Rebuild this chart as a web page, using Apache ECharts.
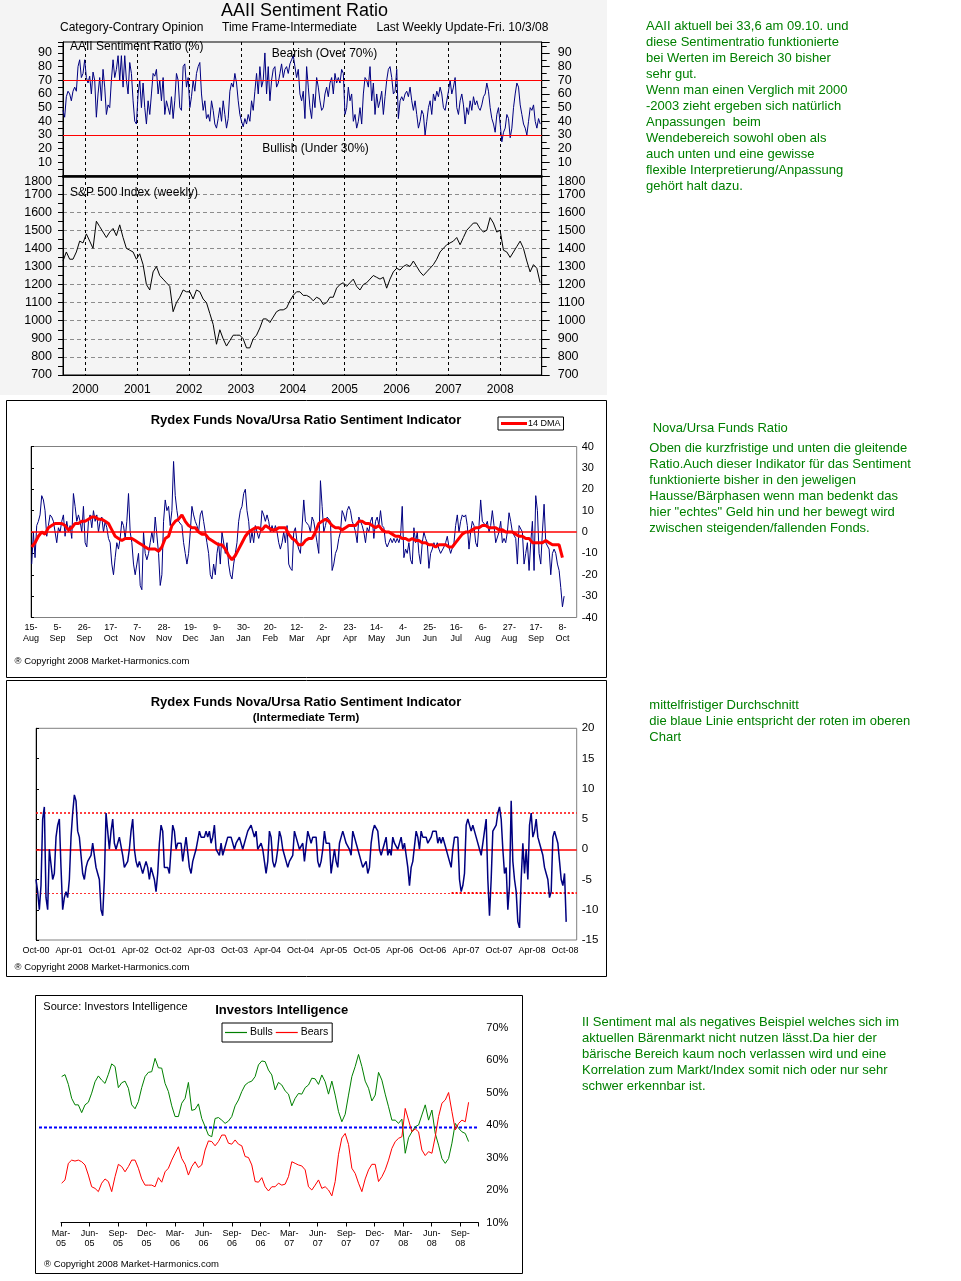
<!DOCTYPE html>
<html><head><meta charset="utf-8">
<script src="https://cdn.jsdelivr.net/npm/echarts@6/dist/echarts.min.js"></script>
<style>html,body{margin:0;padding:0;background:#fff}#c{width:961px;height:1281px}</style>
</head><body><div id="c"></div>
<script>
// ---------------- DATA ----------------
// AAII sentiment ratio (%), regular samples from mid-1999 to Oct 2008
const SENT_START = 1999.568, SENT_STEP = 0.03218;
const SENT_VALUES = [
48,43,58,62,60,55,62,65,62,80,85,72,75,85,72,68,73,60,76,70,
43,60,72,55,78,65,45,52,50,70,85,72,78,88,70,88,65,88,70,60,
83,75,55,40,38,60,70,50,68,50,38,55,45,60,75,73,78,60,70,55,
72,45,55,50,45,58,42,55,75,70,50,48,80,82,65,72,50,58,70,62,
75,80,83,60,48,55,42,45,40,55,48,38,35,42,50,40,55,45,35,42,
62,68,65,75,68,55,45,40,36,42,38,45,40,55,48,62,75,60,80,65,
70,90,60,80,55,70,78,80,65,68,75,82,72,78,80,75,82,85,88,80,
72,78,60,55,62,42,80,65,50,
42,60,50,72,65,55,48,50,60,65,58,68,72,60,75,68,72,68,78,75,
45,50,65,55,60,40,45,35,40,50,38,60,72,70,65,80,55,68,45,60,
50,55,62,45,58,70,78,80,72,60,62,78,42,55,58,55,60,62,58,65,
55,48,55,45,35,40,48,45,30,40,50,55,45,60,55,62,58,65,60,50,
48,55,62,70,60,65,72,50,45,55,60,52,38,50,45,55,48,58,52,55,
50,48,52,58,60,68,62,50,42,38,32,45,50,38,25,32,35,45,42,28,
35,50,60,68,65,52,45,38,35,30,40,50,48,52,40,35,42,38];
const SENT_BEARISH = 70, SENT_BULLISH = 30;
// S&P 500 weekly
const SP_START = 1999.568, SP_STEP = 0.06435;
const SP_VALUES = [
1330,1380,1340,1340,1380,1440,1430,1480,1440,1400,1550,1520,1490,1460,1490,1510,1470,1530,1460,1400,
1390,1380,1340,1370,1310,1200,1170,1270,1300,1250,1230,1210,1190,1050,1100,1130,1170,1160,1160,1120,
1170,1160,1120,1100,1040,980,870,950,900,860,890,920,920,920,900,850,850,900,920,960,
1010,1010,990,1020,1050,1060,1060,1070,1110,1140,1160,1160,1140,1140,1130,
1110,1130,1120,1090,1100,1130,1130,1180,1200,1210,1190,1210,1230,1190,1170,1200,1210,1230,1250,1240,
1230,1240,1180,1230,1270,1290,1280,1300,1310,1300,1330,1300,1270,1250,1270,1290,1310,1340,1380,1400,
1420,1430,1440,1460,1420,1460,1500,1520,1540,1540,1510,1490,1500,1570,1540,1490,1500,1390,1380,1350,
1380,1410,1440,1400,1330,1270,1310,1290,1210];
const AAII_YEARS_MIN = 1999.568, AAII_YEARS_MAX = 2008.8;
const SP_TOP_LABEL = 1800;

// Rydex Nova/Ursa daily ratio (x = trading days after 15-Aug-2007)
const NOVA_START = 0.4, NOVA_STEP = 0.942, DMA_STEP = 1.884;
const NOVA_VALUES = [
-15,0,-12,3,5,8,17,15,10,-2,3,8,7,5,0,-5,2,0,5,8,
-2,5,0,3,-3,18,12,5,8,5,0,12,-5,-7,5,8,2,10,5,8,
0,5,7,0,5,2,-3,-5,-15,-20,-12,-5,-8,-3,5,3,-3,5,18,0,
-5,-15,-20,-15,-10,-25,-27,0,-10,-13,-10,-5,0,-5,7,7,-10,-25,-20,5,
15,10,12,3,10,33,17,10,5,5,3,-5,-10,-15,-10,0,12,8,5,3,
0,8,10,5,0,-5,-10,-20,-22,-15,-20,-10,-5,-15,0,0,-10,-5,-15,-20,
-22,-15,-10,-5,5,10,12,18,20,10,5,-5,0,-5,3,0,-3,0,10,8,
5,8,5,0,3,0,3,0,-5,-8,-5,0,-5,3,-15,-17,-18,0,2,-5,
-8,-10,-10,15,5,
5,3,0,7,5,0,-5,-10,24,12,0,3,7,7,5,-18,-15,-10,-8,-3,
0,10,8,5,10,12,10,5,3,0,-5,7,5,3,0,-5,2,0,5,7,
-3,5,7,3,10,3,2,-5,-7,-5,-3,-5,-3,-5,-3,-5,-2,12,-12,-8,
-10,-5,-13,-15,2,-5,0,-10,-15,-5,0,-3,-5,-17,-10,-8,-5,-7,-5,-8,
-10,-10,-7,-5,-2,-7,-10,-10,-5,3,8,0,5,8,7,8,3,-8,0,5,
3,-5,-7,3,15,5,5,3,5,0,3,10,3,-5,-5,0,5,-5,-3,-5,
0,9,5,0,0,-3,-15,3,3,0,-15,-10,-5,-18,-5,5,-18,17,10,-10,
-15,0,13,-5,-5,-8,-20,-10,-8,-10,-15,-18,-26,-35,-30];
const DMA_VALUES = [
-7,-5,-2,0,-1,2,3,4,4,4,3,1,2,4,4,5,5,6,7,7,
6,6,5,4,1,-2,-3,-4,-3,-3,-3,-4,-5,-6,-7,-8,-8,-8,-9,-7,
-3,-2,3,5,6,8,5,3,2,2,0,-1,-1,-3,-4,-5,-6,-6,-8,-11,
-13,-11,-8,-5,-2,0,1,2,2,1,3,2,1,1,2,2,2,-1,-3,-4,
-6,-6,-4,
-3,-3,0,4,5,6,5,3,2,2,1,2,3,3,3,5,5,4,4,3,
2,3,1,0,0,-1,-2,-2,-3,-3,-4,-3,-4,-4,-5,-5,-6,-6,-7,-6,
-6,-6,-7,-7,-5,-3,-1,0,0,1,2,2,3,3,2,2,2,1,1,0,
0,0,-1,-2,-2,-3,-3,-5,-5,-5,-5,-4,-5,-6,-6,-6,-12];
const NOVA_TICKS = ['15-\nAug','5-\nSep','26-\nSep','17-\nOct','7-\nNov','28-\nNov','19-\nDec','9-\nJan','30-\nJan','20-\nFeb','12-\nMar','2-\nApr','23-\nApr','14-\nMay','4-\nJun','25-\nJun','16-\nJul','6-\nAug','27-\nAug','17-\nSep','8-\nOct'];
const NOVA_ZERO = 0;

// Rydex intermediate term (x = months after Oct-2000)
const INT_START = 0, INT_STEP = 0.3025;
const INT_VALUES = [
-5,-7,-10,-6,5,7,-8,-10,0,0,-5,-4,2,4,5,-3,-10,-8,-7,-8,
-5,2,6,9,8,3,2,-1,-4,-5,-3,-2,-2,-1,1,-1,-3,-4,-5,-10,
-11,-5,6,3,0,3,5,1,0,0,2,2,-1,-3,-3,-2,0,3,5,0,
-2,-3,-2,-3,-4,-3,-2,-3,-5,-3,-4,-5,-7,-4,1,4,3,-3,-3,-3,
-4,0,4,3,0,1,1,1,-2,-2,2,2,-3,-4,-2,-1,0,0,3,2,
2,2,3,2,3,1,2,4,0,0,-1,1,-1,-1,1,2,2,2,2,0,
1,1,2,1,0,1,2,3,3,4,3,2,3,0,0,1,0,-2,-4,-2,
3,2,-2,-3,-2,0,3,2,0,-1,-2,-3,-2,-2,-1,3,2,2,0,0,
1,-2,-2,
3,2,1,2,2,2,-2,-3,-2,0,3,1,1,1,-4,-4,0,-2,-3,1,
2,3,2,1,1,0,-1,3,2,1,0,-1,-2,-3,-3,-2,-4,-3,1,3,
4,4,3,0,-1,0,1,2,-1,0,-1,2,1,1,0,0,2,0,1,1,
-3,-6,-3,-2,-2,3,2,0,3,2,2,2,1,1,2,3,3,3,1,2,
1,2,1,0,0,-2,-3,0,2,2,2,-5,-7,-6,-4,4,5,4,3,4,
3,2,2,0,-1,-1,3,5,-5,-11,-5,3,3,4,6,7,5,0,-4,-3,
-10,-6,8,-2,-5,-7,-12,-13,-5,1,-4,0,-5,4,6,2,3,5,2,1,
1,-1,-3,-4,-5,-8,-7,2,3,3,1,-2,-5,-6,-4,-12];
const INT_UPPER = 6.05, INT_LOWER = -7.2, INT_LOWER_BOLD_FROM = 75.4;
const INT_TICKS = ['Oct-00','Apr-01','Oct-01','Apr-02','Oct-02','Apr-03','Oct-03','Apr-04','Oct-04','Apr-05','Oct-05','Apr-06','Oct-06','Apr-07','Oct-07','Apr-08','Oct-08'];

// Investors Intelligence (x = months after Mar-2005)
const II_START = 0.07, II_STEP = 0.3509;
const II_BULLS = [
54.9,55.5,52.5,48.2,46.2,46.2,43.8,46.2,47,49.8,53.3,55.1,53.8,52.8,55.6,58.8,58,51.5,53,53.5,
51.3,46.2,45,47.2,51.5,54.9,56.2,56.4,60.5,57.6,57.5,52.8,50.3,45.9,42.6,42.6,46.7,48.2,53.1,44.5,
44.8,46.5,42,39.5,36.9,36.4,42,42.3,41.5,40.5,41.2,42.6,45.9,47.7,50.3,52.3,53.1,53.5,54.9,58.5,
59.7,59.5,56.9,55.4,50.8,53.1,
52.3,50.5,49.5,45.9,48.2,49.7,49.5,51.5,52.3,54.4,54.2,52.5,55.4,53.3,49.5,53.5,49.2,44.1,41,43.3,
49.2,54.9,58,61.7,58,53.5,51.3,47.4,49.2,56.2,53.8,49.5,45.6,41.5,41.5,40.5,41.8,31.3,36.1,37.9,
39.5,40,43.1,46.2,41.5,44.6,37.4,33.8,29.7,28.2,29.7,34.4,40.5,39,37.9,37.4,34.9];
const II_BEARS = [
22.1,23.1,28.2,29.2,28.9,29.2,28.7,27.7,24.6,21,20.5,19.5,22.1,23.4,22.6,19.5,24.1,27.9,27.2,25.6,
27.2,29.2,29.2,26.7,23.4,21.5,21.5,21.5,21,23.8,22.4,25.6,26.7,29.2,31.3,33.3,29.7,27.9,24.6,27.2,
28.7,26.9,27.7,32.3,35.1,34.9,33.6,34.9,36.9,36.9,34.4,34.1,35.4,34.1,33.6,30.3,30,27.7,22.6,22.4,
23.8,21,19.7,21,21,22.1,
21.5,21.8,24.1,28.7,28.2,27.7,27.4,26.2,21,20,21.5,23.1,20.5,21,20,18.2,22.6,31,36,37.4,
34,26.7,25.1,22.1,19.5,23.4,26.2,27.9,27.9,22.6,24.1,26.2,29.2,32.8,34.9,35.9,36.4,45.1,41.5,37.9,
38.8,37.9,32.3,30.6,31.8,31.3,36.4,42.6,46.7,47.7,50,44.1,38.5,40.5,41.5,41,47];
const II_REF = 39.2;
const II_TICKS = ['Mar-\n05','Jun-\n05','Sep-\n05','Dec-\n05','Mar-\n06','Jun-\n06','Sep-\n06','Dec-\n06','Mar-\n07','Jun-\n07','Sep-\n07','Dec-\n07','Mar-\n08','Jun-\n08','Sep-\n08'];

// Side notes (German)
const NOTE1 = ['AAII aktuell bei 33,6 am 09.10. und','diese Sentimentratio funktionierte','bei Werten im Bereich 30 bisher','sehr gut.','Wenn man einen Verglich mit 2000','-2003 zieht ergeben sich natürlich','Anpassungen  beim','Wendebereich sowohl oben als','auch unten und eine gewisse','flexible Interpretierung/Anpassung','gehört halt dazu.'];
const NOTE2_HEAD = 'Nova/Ursa Funds Ratio';
const NOTE2 = ['Oben die kurzfristige und unten die gleitende','Ratio.Auch dieser Indikator für das Sentiment','funktionierte bisher in den jeweligen','Hausse/Bärphasen wenn man bedenkt das','hier "echtes" Geld hin und her bewegt wird','zwischen steigenden/fallenden Fonds.'];
const NOTE3 = ['mittelfristiger Durchschnitt','die blaue Linie entspricht der roten im oberen','Chart'];
const NOTE4 = ['II Sentiment mal als negatives Beispiel welches sich im','aktuellen Bärenmarkt nicht nutzen lässt.Da hier der','bärische Bereich kaum noch verlassen wird und eine','Korrelation zum Markt/Index somit nich oder nur sehr','schwer erkennbar ist.'];

// ---------------- CHART ----------------
const FONT = '"Liberation Sans", Arial, Helvetica, sans-serif';
const pairs = (vals, x0, step) => vals.map((v, i) => [x0 + i * step, v]);
function txt(text, x, y, size, o) {
  o = o || {};
  return {type:'text', x:x, y:y, z:50, silent:true, style:{text:text, fontSize:size, fontFamily:FONT,
    fontWeight:o.bold ? 'bold' : 'normal', fill:o.color || '#000',
    textAlign:o.align || 'left', align:o.align || 'left', textVerticalAlign:'middle', verticalAlign:'middle'}};
}
const lab = (size, extra) => Object.assign({fontSize:size, fontFamily:FONT, color:'#000', hideOverlap:false, formatter:v => String(v)}, extra || {});
const tickFmt = (arr, step) => v => { const k = Math.round(v / step); return (Math.abs(v - k * step) < 1e-6 && k >= 0 && k < arr.length) ? arr[k] : ''; };

const graphics = [
  {type:'rect', z:-100, silent:true, shape:{x:0, y:0, width:607, height:395}, style:{fill:'#f4f4f4'}},
  {type:'rect', z:40, silent:true, shape:{x:6.5, y:400.5, width:600, height:277}, style:{fill:'none', stroke:'#000', lineWidth:1}},
  {type:'rect', z:40, silent:true, shape:{x:6.5, y:680.5, width:600, height:296}, style:{fill:'none', stroke:'#000', lineWidth:1}},
  {type:'rect', z:40, silent:true, shape:{x:35.5, y:995.5, width:487, height:278}, style:{fill:'none', stroke:'#000', lineWidth:1}},
  txt('AAII Sentiment Ratio', 304.5, 11, 18, {align:'center'}),
  txt('Category-Contrary Opinion', 60, 28, 12),
  txt('Time Frame-Intermediate', 222, 28, 12),
  txt('Last Weekly Update-Fri. 10/3/08', 376.5, 28, 12),
  txt('AAII Sentiment Ratio (%)', 70, 47, 12),
  txt('Bearish (Over 70%)', 324.5, 54, 12, {align:'center'}),
  txt('Bullish (Under 30%)', 315.5, 149, 12, {align:'center'}),
  txt('S&P 500 Index (weekly)', 70, 193, 12),
  txt('Rydex Funds Nova/Ursa Ratio Sentiment Indicator', 306, 420.5, 13, {align:'center', bold:true}),
  txt('® Copyright 2008 Market-Harmonics.com', 14.5, 661.5, 9.5),
  txt('Rydex Funds Nova/Ursa Ratio Sentiment Indicator', 306, 702.5, 13, {align:'center', bold:true}),
  txt('(Intermediate Term)', 306, 718.3, 11.5, {align:'center', bold:true}),
  txt('® Copyright 2008 Market-Harmonics.com', 14.5, 967.3, 9.5),
  txt('Source: Investors Intelligence', 43.3, 1007.3, 11),
  txt('Investors Intelligence', 281.7, 1010.7, 13, {align:'center', bold:true}),
  txt('® Copyright 2008 Market-Harmonics.com', 44, 1264.3, 9.5),
  txt(NOTE2_HEAD, 652.7, 428.3, 13, {color:'#008000'})
];
NOTE1.forEach((s, i) => graphics.push(txt(s, 646, 26.7 + i * 16, 13, {color:'#008000'})));
NOTE2.forEach((s, i) => graphics.push(txt(s, 649.3, 448.3 + i * 16, 13, {color:'#008000'})));
NOTE3.forEach((s, i) => graphics.push(txt(s, 649.3, 705 + i * 16, 13, {color:'#008000'})));
NOTE4.forEach((s, i) => graphics.push(txt(s, 582, 1022 + i * 16, 13, {color:'#008000'})));

const yearFmt = v => Math.abs(v - Math.round(v)) < 1e-6 ? String(Math.round(v)) : '';
const spTopFmt = v => v === SP_TOP_LABEL ? '{t|' + SP_TOP_LABEL + '}' : '';
const spRich = {t:{fontSize:12.5, fontFamily:FONT, color:'#000', padding:[12,0,0,0]}};
const dashedBlack = {show:true, lineStyle:{color:'#000', width:1, type:[3,3]}};
const spTopAxis = (pos, margin) => ({gridIndex:1, type:'value', position:pos, min:700, max:1800, interval:100,
  axisLine:{show:false}, axisTick:{show:false}, minorTick:{show:false}, splitLine:{show:false},
  axisLabel:lab(12.5, {margin:margin, showMaxLabel:true, showMinLabel:false, formatter:spTopFmt, rich:spRich})});

const option = {
  animation:false,
  backgroundColor:'#ffffff',
  textStyle:{fontFamily:FONT},
  graphic:{elements:graphics},
  grid:[
    {left:63, top:42, width:478.7, height:134, show:true, borderColor:'#000', borderWidth:1, backgroundColor:'transparent', outerBoundsMode:'none'},
    {left:63, top:176, width:478.7, height:199, show:true, borderColor:'#000', borderWidth:1, backgroundColor:'transparent', outerBoundsMode:'none'},
    {left:31, top:446.5, width:545.7, height:171, show:true, borderColor:'#808080', borderWidth:1, backgroundColor:'transparent', outerBoundsMode:'none'},
    {left:36, top:728.3, width:540.7, height:211.7, show:true, borderColor:'#808080', borderWidth:1, backgroundColor:'transparent', outerBoundsMode:'none'},
    {left:61, top:1027.5, width:417.3, height:195, outerBoundsMode:'none'},
    {left:39, top:1027.5, width:439.3, height:195, outerBoundsMode:'none'}
  ],
  xAxis:[
    {gridIndex:0, type:'value', min:AAII_YEARS_MIN, max:AAII_YEARS_MAX, splitNumber:9, minInterval:1, maxInterval:1,
     axisLine:{show:true, onZero:false, lineStyle:{color:'#000', width:2.5}}, axisTick:{show:false}, axisLabel:{show:false}, splitLine:dashedBlack},
    {gridIndex:1, type:'value', min:AAII_YEARS_MIN, max:AAII_YEARS_MAX, splitNumber:9, minInterval:1, maxInterval:1,
     axisLine:{show:true, onZero:false, lineStyle:{color:'#000', width:1}}, axisTick:{show:false},
     axisLabel:lab(12, {formatter:yearFmt, margin:9, showMinLabel:false, showMaxLabel:false}), splitLine:dashedBlack},
    {gridIndex:2, type:'value', min:0, max:308, interval:15,
     axisLine:{show:false}, axisTick:{show:false}, splitLine:{show:false},
     axisLabel:lab(9, {formatter:tickFmt(NOVA_TICKS, 15), margin:5, lineHeight:11})},
    {gridIndex:3, type:'value', min:0, max:98.1, interval:6,
     axisLine:{show:false}, axisTick:{show:false}, splitLine:{show:false},
     axisLabel:lab(9, {formatter:tickFmt(INT_TICKS, 6), margin:6})},
    {gridIndex:4, type:'value', min:0, max:43.9, interval:3,
     axisLine:{show:true, onZero:false, lineStyle:{color:'#000', width:1}}, axisTick:{show:true, length:4, lineStyle:{color:'#000'}}, splitLine:{show:false},
     axisLabel:lab(9, {formatter:tickFmt(II_TICKS, 3), margin:6, lineHeight:10})},
    {gridIndex:5, type:'value', min:0, max:1, show:false}
  ],
  yAxis:[
    {gridIndex:0, type:'value', position:'left', min:0, max:98, interval:10,
     axisLine:{show:true, lineStyle:{color:'#000'}}, axisTick:{show:true, length:5, lineStyle:{color:'#000'}},
     minorTick:{show:true, splitNumber:2, length:5, lineStyle:{color:'#000'}}, splitLine:{show:false},
     axisLabel:lab(12.5, {margin:11, showMinLabel:false, showMaxLabel:false})},
    {gridIndex:0, type:'value', position:'right', min:0, max:98, interval:10,
     axisLine:{show:true, lineStyle:{color:'#000'}}, axisTick:{show:true, length:8, lineStyle:{color:'#000'}},
     minorTick:{show:true, splitNumber:2, length:5, lineStyle:{color:'#000'}}, splitLine:{show:false},
     axisLabel:lab(12.5, {margin:16, showMinLabel:false, showMaxLabel:false})},
    {gridIndex:1, type:'value', position:'left', min:700, max:1800, interval:100,
     axisLine:{show:true, lineStyle:{color:'#000'}}, axisTick:{show:true, length:5, lineStyle:{color:'#000'}},
     minorTick:{show:true, splitNumber:2, length:5, lineStyle:{color:'#000'}},
     splitLine:{show:true, lineStyle:{color:'#8c8c8c', type:[4,3]}},
     axisLabel:lab(12.5, {margin:11, showMaxLabel:false})},
    {gridIndex:1, type:'value', position:'right', min:700, max:1800, interval:100,
     axisLine:{show:true, lineStyle:{color:'#000'}}, axisTick:{show:true, length:8, lineStyle:{color:'#000'}},
     minorTick:{show:true, splitNumber:2, length:5, lineStyle:{color:'#000'}}, splitLine:{show:false},
     axisLabel:lab(12.5, {margin:16, showMaxLabel:false})},
    {gridIndex:2, type:'value', position:'right', min:-40, max:40, interval:10,
     axisLine:{show:true, lineStyle:{color:'#000'}}, axisTick:{show:true, length:3, lineStyle:{color:'#000'}}, splitLine:{show:false},
     axisLabel:lab(11, {margin:5})},
    {gridIndex:3, type:'value', position:'right', min:-15, max:20, interval:5,
     axisLine:{show:true, lineStyle:{color:'#000'}}, axisTick:{show:true, length:3, lineStyle:{color:'#000'}}, splitLine:{show:false},
     axisLabel:lab(11.5, {margin:5})},
    {gridIndex:4, type:'value', position:'right', min:10, max:70, interval:10,
     axisLine:{show:false}, axisTick:{show:false}, splitLine:{show:false},
     axisLabel:lab(11, {margin:8, formatter:'{value}%'})},
    {gridIndex:5, type:'value', min:10, max:70, show:false},
    spTopAxis('left', 11),
    spTopAxis('right', 16)
  ],
  legend:[
    {data:['14 DMA'], left:498, top:417, orient:'horizontal', icon:'rect', itemWidth:26, itemHeight:3, itemGap:2,
     padding:[2,3,2,3], borderColor:'#000', borderWidth:1, borderRadius:0, backgroundColor:'#fff',
     textStyle:{fontSize:9, fontFamily:FONT, color:'#000', padding:[0,0,0,-4]}},
    {data:['Bulls','Bears'], left:222, top:1023, orient:'horizontal', icon:'rect', itemWidth:22, itemHeight:1.2, itemGap:3,
     padding:[4,4,4,3], borderColor:'#000', borderWidth:1, borderRadius:0, backgroundColor:'#fff',
     textStyle:{fontSize:10.5, fontFamily:FONT, color:'#000', padding:[0,0,0,-2]}}
  ],
  series:[
    {type:'line', name:'AAII', xAxisIndex:0, yAxisIndex:0, data:pairs(SENT_VALUES, SENT_START, SENT_STEP),
     symbol:'none', lineStyle:{color:'#000080', width:1}, itemStyle:{color:'#000080'}, z:3,
     markLine:{silent:true, symbol:'none', label:{show:false}, lineStyle:{color:'#ff0000', width:1, type:'solid'},
       data:[{yAxis:SENT_BEARISH}, {yAxis:SENT_BULLISH}]}},
    {type:'line', name:'S&P 500', xAxisIndex:1, yAxisIndex:2, data:pairs(SP_VALUES, SP_START, SP_STEP),
     symbol:'none', lineStyle:{color:'#000', width:1}, itemStyle:{color:'#000'}, z:3},
    {type:'line', name:'Nova/Ursa', xAxisIndex:2, yAxisIndex:4, data:pairs(NOVA_VALUES, NOVA_START, NOVA_STEP),
     symbol:'none', lineStyle:{color:'#000080', width:1}, itemStyle:{color:'#000080'}, z:3,
     markLine:{silent:true, symbol:'none', label:{show:false}, lineStyle:{color:'#ff0000', width:1.5, type:'solid'},
       data:[{yAxis:NOVA_ZERO}]}},
    {type:'line', name:'14 DMA', xAxisIndex:2, yAxisIndex:4, data:pairs(DMA_VALUES, NOVA_START, DMA_STEP),
     symbol:'none', lineStyle:{color:'#ff0000', width:3}, itemStyle:{color:'#ff0000'}, z:4},
    {type:'line', name:'Intermediate', xAxisIndex:3, yAxisIndex:5, data:pairs(INT_VALUES, INT_START, INT_STEP),
     symbol:'none', lineStyle:{color:'#000080', width:1.5}, itemStyle:{color:'#000080'}, z:4,
     markLine:{silent:true, symbol:'none', label:{show:false}, z:3,
       data:[
         {yAxis:0, lineStyle:{color:'#ff0000', width:1.5, type:'solid'}},
         {yAxis:INT_UPPER, lineStyle:{color:'#ff0000', width:1.5, type:[2,2]}},
         {yAxis:INT_LOWER, lineStyle:{color:'#ff3030', width:1, type:[2,2]}},
         [{coord:[INT_LOWER_BOLD_FROM, INT_LOWER], lineStyle:{color:'#ff0000', width:2, type:[2,2]}}, {coord:[98.1, INT_LOWER]}]
       ]}},
    {type:'line', name:'Bulls', xAxisIndex:4, yAxisIndex:6, data:pairs(II_BULLS, II_START, II_STEP),
     symbol:'none', lineStyle:{color:'#008000', width:1}, itemStyle:{color:'#008000'}, z:4},
    {type:'line', name:'Bears', xAxisIndex:4, yAxisIndex:6, data:pairs(II_BEARS, II_START, II_STEP),
     symbol:'none', lineStyle:{color:'#ff0000', width:1}, itemStyle:{color:'#ff0000'}, z:5},
    {type:'line', name:'II reference', xAxisIndex:5, yAxisIndex:7, data:[[0, II_REF], [1, II_REF]],
     symbol:'none', lineStyle:{color:'#0000ff', width:2, type:[3,2]}, itemStyle:{color:'#0000ff'}, z:3}
  ]
};
const chart = echarts.init(document.getElementById('c'), null, {renderer:'canvas', width:961, height:1281});
chart.setOption(option);
</script></body></html>
